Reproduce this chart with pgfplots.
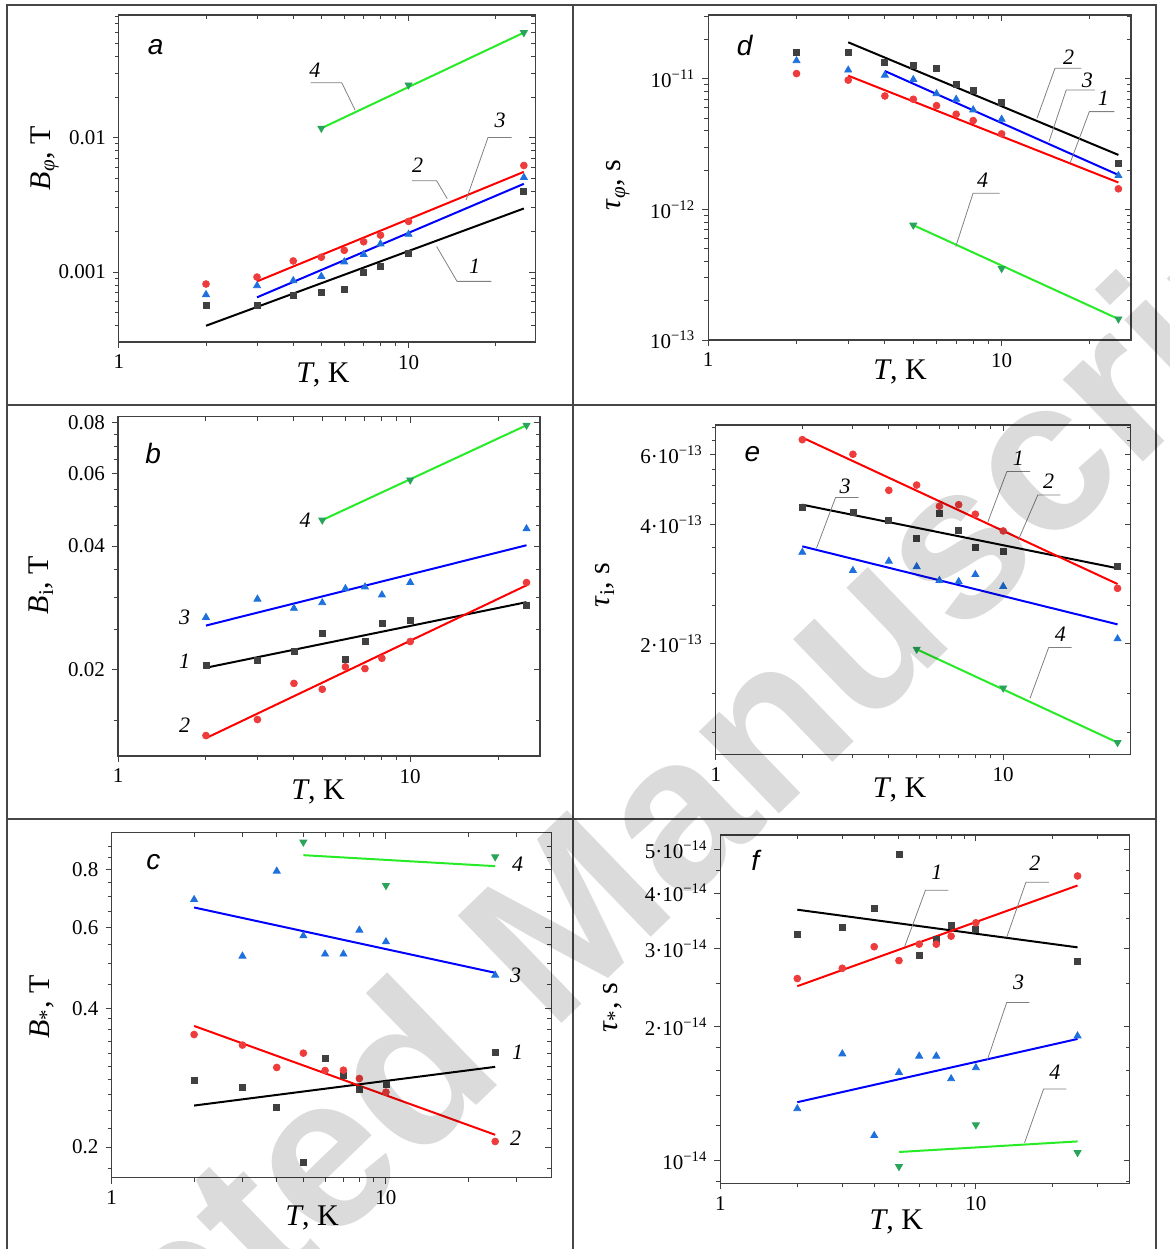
\documentclass[border=0pt]{standalone}
\usepackage{pgfplots}
\pgfplotsset{compat=1.18}
\usepackage{fontspec}
\setmainfont{Liberation Serif}
\newfontfamily\arial{Liberation Sans}

\definecolor{sqc}{RGB}{64,64,64}
\definecolor{circ}{RGB}{238,60,60}
\definecolor{tri}{RGB}{30,112,220}
\definecolor{dtri}{RGB}{40,165,90}
\definecolor{lgreen}{RGB}{40,235,40}
\definecolor{framec}{RGB}{70,70,70}

\newcommand\annot{\fontsize{11}{12}\selectfont\itshape}
\newcommand\plabel{\fontsize{14}{16}\selectfont\arial\itshape}
\newcommand\axlab{\fontsize{15}{17}\selectfont}

\tikzset{
  leadline/.style={gray, line width=0.4pt},
  serA/.style={only marks, mark=square*, mark size=1.5pt, color=sqc},
  serB/.style={only marks, mark=*, mark size=1.7pt, color=circ},
  serC/.style={only marks, mark=triangle*, mark size=2pt, color=tri},
  serD/.style={only marks, mark=triangle*, mark size=2pt, color=dtri, mark options={rotate=180}},
  fitA/.style={black, line width=1pt},
  fitB/.style={red, line width=1pt},
  fitC/.style={blue, line width=1pt},
  fitD/.style={lgreen, line width=1pt},
}

\pgfplotsset{every axis/.append style={
    scale only axis, anchor=south west, clip=false,
    xmin=1,
    axis line style={line width=0.6pt, black!75},
    tick style={line width=0.5pt, black!75},
    tick align=outside, xtick pos=left, ytick pos=left,
    major tick length=3pt, minor tick length=2pt,
    xtick={1,10}, xticklabels={1,10},
    minor xtick={2,3,4,5,6,7,8,9,20,30},
    tick label style={font=\fontsize{10.5}{12}\selectfont},
    every axis y label/.style={rotate=90, anchor=center, font=\axlab},
    every axis x label/.style={anchor=center, font=\axlab},
}}

% empty copy of an axis that carries the inward ticks on the top and right
\newcommand\mirror[1]{\begin{loglogaxis}[#1, xtick pos=right, ytick pos=right,
  tick align=inside, xticklabels={}, yticklabels={}]
\end{loglogaxis}}

\begin{document}
\begin{tikzpicture}
\useasboundingbox (0,0) rectangle (585pt,-624.5pt);
% frame of the six panels
\draw[framec, line width=0.8pt] (3.5pt,-2.5pt) rectangle (578pt,-627pt);
\draw[framec, line width=0.8pt] (286.5pt,-2.5pt) -- (286.5pt,-627pt);
\draw[framec, line width=0.8pt] (3.5pt,-202.5pt) -- (578pt,-202.5pt);
\draw[framec, line width=0.8pt] (3.5pt,-409.5pt) -- (578pt,-409.5pt);

% ---------- a ----------
\begin{loglogaxis}[at={(59.4pt,-171pt)}, width=208.3pt, height=163.5pt,
  xmax=27.4, ymin=0.000302, ymax=0.0815,
  ytick={0.001,0.01}, yticklabels={0.001,0.01},
  minor ytick={0.0004,0.0005,0.0006,0.0007,0.0008,0.0009,0.002,0.003,0.004,0.005,0.006,0.007,0.008,0.009,0.02,0.03,0.04,0.05,0.06,0.07,0.08},
  xlabel={\textit{T}, K}, ylabel={\textit{B}\textsubscript{\textit{φ}}, T},
  xlabel style={at={(axis description cs:0.49,0)}, yshift=-16.5pt},
  ylabel style={at={(axis description cs:-0.178,0.563)}}]
\addplot[fitA] coordinates {(2,0.000399) (25,0.00297)};
\addplot[fitB] coordinates {(3,0.000853) (25,0.00556)};
\addplot[fitC] coordinates {(3,0.000649) (25,0.00453)};
\addplot[fitD] coordinates {(5,0.01173) (25,0.0603)};
\addplot[serA] coordinates {(2,0.000565) (3,0.000565) (4,0.000671) (5,0.00071) (6,0.000748) (7,0.001) (8,0.0011) (10,0.00137) (25,0.00397)};
\addplot[serB] coordinates {(2,0.000815) (3,0.000918) (4,0.00121) (5,0.00129) (6,0.00145) (7,0.00168) (8,0.00188) (10,0.00238) (25,0.0062)};
\addplot[serC] coordinates {(2,0.00068) (3,0.000792) (4,0.000863) (5,0.000929) (6,0.00119) (7,0.00135) (8,0.00162) (10,0.00191) (25,0.00505)};
\addplot[serD] coordinates {(5,0.01173) (10,0.0246) (25,0.0603)};
\draw[leadline] (axis cs:4.59,0.0256) -- (axis cs:5.88,0.0256) -- (axis cs:6.54,0.016);
\draw[leadline] (axis cs:10.29,0.00477) -- (axis cs:12.5,0.00477) -- (axis cs:13.6,0.00351);
\draw[leadline] (axis cs:22.7,0.01) -- (axis cs:18.8,0.01) -- (axis cs:15.8,0.00344);
\draw[leadline] (axis cs:19.3,0.000853) -- (axis cs:14.7,0.000853) -- (axis cs:12.5,0.00155);
\node[font=\annot] at (axis cs:4.75,0.0318) {4};
\node[font=\annot] at (axis cs:10.75,0.0062) {2};
\node[font=\annot] at (axis cs:20.7,0.01337) {3};
\node[font=\annot] at (axis cs:16.9,0.0011) {1};
\node[font=\plabel] at (axis cs:1.34,0.0474) {a};
\end{loglogaxis}
\mirror{at={(59.4pt,-171pt)}, width=208.3pt, height=163.5pt,
  xmax=27.4, ymin=0.000302, ymax=0.0815, ytick={0.001,0.01},
  minor ytick={0.0004,0.0005,0.0006,0.0007,0.0008,0.0009,0.002,0.003,0.004,0.005,0.006,0.007,0.008,0.009,0.02,0.03,0.04,0.05,0.06,0.07,0.08}}

% ---------- d ----------
\begin{loglogaxis}[at={(354.1pt,-170pt)}, width=211.4pt, height=162.5pt,
  xmax=27.6, ymin=1e-13, ymax=3.09e-11,
  ytick={1e-13,1e-12,1e-11},
  yticklabels={{10\textsuperscript{−13}},{10\textsuperscript{−12}},{10\textsuperscript{−11}}},
  minor ytick={2e-13,3e-13,4e-13,5e-13,6e-13,7e-13,8e-13,9e-13,2e-12,3e-12,4e-12,5e-12,6e-12,7e-12,8e-12,9e-12,2e-11,3e-11},
  xlabel={\textit{T}, K}, ylabel={\textit{τ}\textsubscript{\textit{φ}}, s},
  xlabel style={at={(axis description cs:0.454,0)}, yshift=-16pt},
  ylabel style={at={(axis description cs:-0.213,0.477)}}]
\addplot[fitA] coordinates {(3,1.91e-11) (25,2.62e-12)};
\addplot[fitB] coordinates {(3,1.06e-11) (25,1.61e-12)};
\addplot[fitC] coordinates {(4,1.15e-11) (25,1.84e-12)};
\addplot[fitD] coordinates {(5,7.59e-13) (25,1.45e-13)};
\addplot[serA] coordinates {(2,1.6e-11) (3,1.6e-11) (4,1.34e-11) (5,1.27e-11) (6,1.21e-11) (7,9.1e-12) (8,8.2e-12) (10,6.6e-12) (25,2.26e-12)};
\addplot[serB] coordinates {(2,1.1e-11) (3,9.8e-12) (4,7.41e-12) (5,6.99e-12) (6,6.25e-12) (7,5.37e-12) (8,4.8e-12) (10,3.8e-12) (25,1.44e-12)};
\addplot[serC] coordinates {(2,1.38e-11) (3,1.17e-11) (4,1.07e-11) (5,9.9e-12) (6,7.72e-12) (7,6.99e-12) (8,5.8e-12) (10,4.91e-12) (25,1.82e-12)};
\addplot[serD] coordinates {(5,7.59e-13) (10,3.53e-13) (25,1.45e-13)};
\draw[leadline] (axis cs:18.7,1.21e-11) -- (axis cs:15.2,1.21e-11) -- (axis cs:13.2,5.0e-12);
\draw[leadline] (axis cs:20.8,8.24e-12) -- (axis cs:16.6,8.24e-12) -- (axis cs:14.5,3.31e-12);
\draw[leadline] (axis cs:24.2,5.62e-12) -- (axis cs:19.9,5.62e-12) -- (axis cs:17.1,2.26e-12);
\draw[leadline] (axis cs:9.85,1.33e-12) -- (axis cs:7.99,1.33e-12) -- (axis cs:6.98,5.21e-13);
\node[font=\annot] at (axis cs:16.9,1.47e-11) {2};
\node[font=\annot] at (axis cs:19.6,9.8e-12) {3};
\node[font=\annot] at (axis cs:22.2,7.1e-12) {1};
\node[font=\annot] at (axis cs:8.61,1.69e-12) {4};
\node[font=\plabel] at (axis cs:1.33,1.82e-11) {d};
\end{loglogaxis}
\mirror{at={(354.1pt,-170pt)}, width=211.4pt, height=162.5pt,
  xmax=27.6, ymin=1e-13, ymax=3.09e-11, ytick={1e-13,1e-12,1e-11},
  minor ytick={2e-13,3e-13,4e-13,5e-13,6e-13,7e-13,8e-13,9e-13,2e-12,3e-12,4e-12,5e-12,6e-12,7e-12,8e-12,9e-12,2e-11,3e-11}}

% ---------- b ----------
\begin{loglogaxis}[at={(59pt,-378pt)}, width=211pt, height=169.7pt,
  xmax=27.8, ymin=0.0123, ymax=0.0828,
  ytick={0.02,0.04,0.06,0.08}, yticklabels={0.02,0.04,0.06,0.08},
  minor ytick={0.015,0.025,0.03,0.035,0.045,0.05,0.055,0.065,0.07,0.075},
  xlabel={\textit{T}, K}, ylabel={\textit{B}\textsubscript{i}, T},
  xlabel style={at={(axis description cs:0.474,0)}, yshift=-18pt},
  ylabel style={at={(axis description cs:-0.182,0.504)}}]
\addplot[fitA] coordinates {(2,0.0202) (25,0.0292)};
\addplot[fitB] coordinates {(2,0.0136) (25,0.0321)};
\addplot[fitC] coordinates {(2,0.0256) (25,0.0402)};
\addplot[fitD] coordinates {(5,0.0463) (25,0.0789)};
\addplot[serA] coordinates {(2,0.0205) (3,0.0211) (4,0.0221) (5,0.0245) (6,0.0212) (7,0.0234) (8,0.0259) (10,0.0264) (25,0.0287)};
\addplot[serB] coordinates {(2,0.0138) (3,0.0151) (4,0.0185) (5,0.0179) (6,0.0203) (7,0.0201) (8,0.0213) (10,0.0234) (25,0.0326)};
\addplot[serC] coordinates {(2,0.0268) (3,0.0297) (4,0.0282) (5,0.0291) (6,0.0315) (7,0.0318) (8,0.0304) (10,0.0326) (25,0.0441)};
\addplot[serD] coordinates {(5,0.0463) (10,0.058) (25,0.0789)};
\node[font=\annot] at (axis cs:4.37,0.0463) {4};
\node[font=\annot] at (axis cs:1.69,0.0268) {3};
\node[font=\annot] at (axis cs:1.69,0.0209) {1};
\node[font=\annot] at (axis cs:1.69,0.0146) {2};
\node[font=\plabel] at (axis cs:1.32,0.0673) {b};
\end{loglogaxis}
\mirror{at={(59pt,-378pt)}, width=211pt, height=169.7pt,
  xmax=27.8, ymin=0.0123, ymax=0.0828, ytick={0.02,0.04,0.06,0.08},
  minor ytick={0.015,0.025,0.03,0.035,0.045,0.05,0.055,0.065,0.07,0.075}}

% ---------- e ----------
\begin{loglogaxis}[at={(357.9pt,-377.15pt)}, width=207.5pt, height=164.7pt,
  xmax=27.8, ymin=1.055e-13, ymax=7.11e-13,
  ytick={2e-13,4e-13,6e-13},
  yticklabels={{2·10\textsuperscript{−13}},{4·10\textsuperscript{−13}},{6·10\textsuperscript{−13}}},
  minor ytick={1.2e-13,1.5e-13,2.5e-13,3e-13,3.5e-13,4.5e-13,5e-13,5.5e-13,6.5e-13,7e-13},
  xlabel={\textit{T}, K}, ylabel={\textit{τ}\textsubscript{i}, s},
  xlabel style={at={(axis description cs:0.443,0)}, yshift=-18pt},
  ylabel style={at={(axis description cs:-0.267,0.514)}}]
\addplot[fitA] coordinates {(2,4.48e-13) (25,3.1e-13)};
\addplot[fitB] coordinates {(2,6.61e-13) (25,2.83e-13)};
\addplot[fitC] coordinates {(2,3.52e-13) (25,2.24e-13)};
\addplot[fitD] coordinates {(5,1.94e-13) (25,1.13e-13)};
\addplot[serA] coordinates {(2,4.41e-13) (3,4.29e-13) (4,4.08e-13) (5,3.69e-13) (6,4.26e-13) (7,3.86e-13) (8,3.49e-13) (10,3.41e-13) (25,3.13e-13)};
\addplot[serB] coordinates {(2,6.53e-13) (3,6.0e-13) (4,4.87e-13) (5,5.02e-13) (6,4.44e-13) (7,4.48e-13) (8,4.24e-13) (10,3.85e-13) (25,2.76e-13)};
\addplot[serC] coordinates {(2,3.40e-13) (3,3.06e-13) (4,3.23e-13) (5,3.13e-13) (6,2.89e-13) (7,2.87e-13) (8,2.99e-13) (10,2.79e-13) (25,2.06e-13)};
\addplot[serD] coordinates {(5,1.94e-13) (10,1.55e-13) (25,1.13e-13)};
\draw[leadline] (axis cs:12.4,5.43e-13) -- (axis cs:10.3,5.43e-13) -- (axis cs:8.85,4.06e-13);
\draw[leadline] (axis cs:15.8,4.74e-13) -- (axis cs:13.2,4.74e-13) -- (axis cs:11.3,3.66e-13);
\draw[leadline] (axis cs:3.14,4.67e-13) -- (axis cs:2.61,4.67e-13) -- (axis cs:2.24,3.48e-13);
\draw[leadline] (axis cs:17.3,1.96e-13) -- (axis cs:14.4,1.96e-13) -- (axis cs:12.4,1.46e-13);
\node[font=\annot] at (axis cs:11.3,5.86e-13) {1};
\node[font=\annot] at (axis cs:14.4,5.14e-13) {2};
\node[font=\annot] at (axis cs:2.82,4.98e-13) {3};
\node[font=\annot] at (axis cs:15.8,2.11e-13) {4};
\node[font=\plabel] at (axis cs:1.34,5.99e-13) {e};
\end{loglogaxis}
\mirror{at={(357.9pt,-377.15pt)}, width=207.5pt, height=164.7pt,
  xmax=27.8, ymin=1.055e-13, ymax=7.11e-13, ytick={2e-13,4e-13,6e-13},
  minor ytick={1.2e-13,1.5e-13,2.5e-13,3e-13,3.5e-13,4.5e-13,5e-13,5.5e-13,6.5e-13,7e-13}}

% ---------- c ----------
\begin{loglogaxis}[at={(55.75pt,-588.85pt)}, width=219.85pt, height=172.5pt,
  xmax=40, ymin=0.1716, ymax=0.964,
  ytick={0.2,0.4,0.6,0.8}, yticklabels={0.2,0.4,0.6,0.8},
  minor ytick={0.18,0.22,0.24,0.26,0.28,0.3,0.32,0.34,0.36,0.38,0.45,0.5,0.55,0.65,0.7,0.75,0.85,0.9},
  xlabel={\textit{T}, K}, ylabel={\textit{B}\textsubscript{*}, T},
  xlabel style={at={(axis description cs:0.456,0)}, yshift=-20pt},
  ylabel style={at={(axis description cs:-0.159,0.495)}}]
\addplot[fitA] coordinates {(2,0.2462) (25,0.2988)};
\addplot[fitB] coordinates {(2,0.3667) (25,0.2127)};
\addplot[fitC] coordinates {(2,0.6632) (25,0.4783)};
\addplot[fitD] coordinates {(5,0.8616) (25,0.8155)};
\addplot[serA] coordinates {(2,0.279) (3,0.2696) (4,0.2438) (5,0.185) (6,0.311) (7,0.2858) (8,0.2674) (10,0.2731) (25,0.3207)};
\addplot[serB] coordinates {(2,0.3513) (3,0.3332) (4,0.2979) (5,0.32) (6,0.2934) (7,0.2939) (8,0.2819) (10,0.2633) (25,0.2057)};
\addplot[serC] coordinates {(2,0.690) (3,0.520) (4,0.7955) (5,0.5755) (6,0.5253) (7,0.5253) (8,0.592) (10,0.5587) (25,0.4727)};
\addplot[serD] coordinates {(5,0.9197) (10,0.7403) (25,0.8545)};
\node[font=\annot] at (axis cs:30.2,0.824) {4};
\node[font=\annot] at (axis cs:29.7,0.473) {3};
\node[font=\annot] at (axis cs:30.2,0.321) {1};
\node[font=\annot] at (axis cs:29.7,0.209) {2};
\node[font=\plabel] at (axis cs:1.42,0.834) {c};
\end{loglogaxis}
\mirror{at={(55.75pt,-588.85pt)}, width=219.85pt, height=172.5pt,
  xmax=40, ymin=0.1716, ymax=0.964, ytick={0.2,0.4,0.6,0.8},
  minor ytick={0.18,0.22,0.24,0.26,0.28,0.3,0.32,0.34,0.36,0.38,0.45,0.5,0.55,0.65,0.7,0.75,0.85,0.9}}

% ---------- f ----------
\begin{loglogaxis}[at={(360.2pt,-591.65pt)}, width=204.65pt, height=174.15pt,
  xmax=40, ymin=8.9e-15, ymax=5.4e-14,
  ytick={1e-14,2e-14,3e-14,4e-14,5e-14},
  yticklabels={{10\textsuperscript{−14}},{2·10\textsuperscript{−14}},{3·10\textsuperscript{−14}},{4·10\textsuperscript{−14}},{5·10\textsuperscript{−14}}},
  minor ytick={9e-15,1.2e-14,1.4e-14,1.6e-14,1.8e-14,2.5e-14,3.5e-14,4.5e-14},
  xlabel={\textit{T}, K}, ylabel={\textit{τ}\textsubscript{*}, s},
  xlabel style={at={(axis description cs:0.43,0)}, yshift=-19.5pt},
  ylabel style={at={(axis description cs:-0.264,0.504)}}]
\addplot[fitA] coordinates {(2,3.67e-14) (25,3.02e-14)};
\addplot[fitB] coordinates {(2,2.47e-14) (25,4.16e-14)};
\addplot[fitC] coordinates {(2,1.355e-14) (25,1.88e-14)};
\addplot[fitD] coordinates {(5,1.047e-14) (25,1.106e-14)};
\addplot[serA] coordinates {(2,3.236e-14) (3,3.34e-14) (4,3.70e-14) (5,4.89e-14) (6,2.89e-14) (7,3.15e-14) (8,3.38e-14) (10,3.31e-14) (25,2.81e-14)};
\addplot[serB] coordinates {(2,2.57e-14) (3,2.71e-14) (4,3.03e-14) (5,2.82e-14) (6,3.07e-14) (7,3.07e-14) (8,3.20e-14) (10,3.43e-14) (25,4.37e-14)};
\addplot[serC] coordinates {(2,1.31e-14) (3,1.74e-14) (4,1.14e-14) (5,1.58e-14) (6,1.72e-14) (7,1.72e-14) (8,1.53e-14) (10,1.62e-14) (25,1.91e-14)};
\addplot[serD] coordinates {(5,9.71e-15) (10,1.205e-14) (25,1.044e-14)};
\draw[leadline] (axis cs:7.81,4.06e-14) -- (axis cs:6.35,4.06e-14) -- (axis cs:5.26,3.03e-14);
\draw[leadline] (axis cs:19.3,4.23e-14) -- (axis cs:15.7,4.23e-14) -- (axis cs:13.2,3.18e-14);
\draw[leadline] (axis cs:16.2,2.27e-14) -- (axis cs:13.2,2.27e-14) -- (axis cs:11.1,1.69e-14);
\draw[leadline] (axis cs:22.6,1.45e-14) -- (axis cs:18.4,1.45e-14) -- (axis cs:15.5,1.097e-14);
\node[font=\annot] at (axis cs:7.04,4.46e-14) {1};
\node[font=\annot] at (axis cs:17.0,4.66e-14) {2};
\node[font=\annot] at (axis cs:14.7,2.52e-14) {3};
\node[font=\annot] at (axis cs:20.4,1.58e-14) {4};
\node[font=\plabel] at (axis cs:1.37,4.73e-14) {f};
\end{loglogaxis}
\mirror{at={(360.2pt,-591.65pt)}, width=204.65pt, height=174.15pt,
  xmax=40, ymin=8.9e-15, ymax=5.4e-14, ytick={1e-14,2e-14,3e-14,4e-14,5e-14},
  minor ytick={9e-15,1.2e-14,1.4e-14,1.6e-14,1.8e-14,2.5e-14,3.5e-14,4.5e-14}}

% watermark
\begin{scope}
\clip (0,0) rectangle (585pt,-624.5pt);
\node[rotate=44, text opacity=0.14, inner sep=0, font=\fontsize{108.5}{110}\selectfont\arial\bfseries] at (278pt,-475.5pt) {Accepted Manuscript};
\end{scope}
\end{tikzpicture}
\end{document}
